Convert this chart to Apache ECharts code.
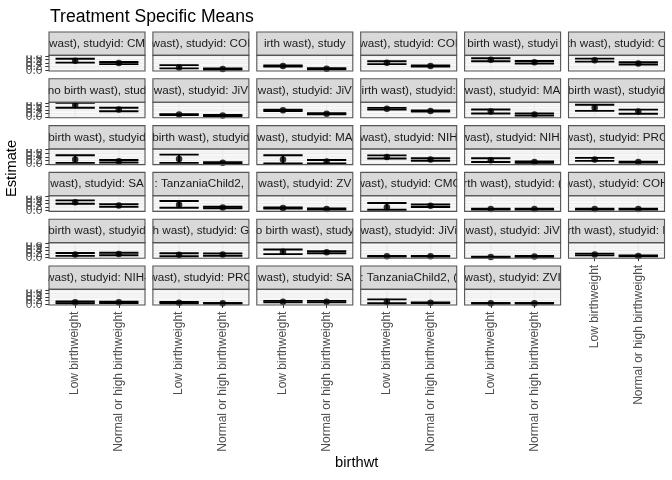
<!DOCTYPE html>
<html>
<head>
<meta charset="utf-8">
<script src="https://cdn.jsdelivr.net/npm/echarts@6/dist/echarts.min.js"></script>
<style>html,body{margin:0;padding:0;background:#fff}#c{width:672px;height:480px}</style>
</head>
<body>
<div id="c"></div>
<script>
// ---- data ----
const categories = ['Low birthweight', 'Normal or high birthweight'];
const stripLabels = [
  'wast), studyid: CM', 'wast), studyid: COI', 'irth wast), study', 'wast), studyid: COI', 'birth wast), studyi', 'th wast), studyid: C',
  'no birth wast), stud', 'wast), studyid: JiV', 'wast), studyid: JiV', 'irth wast), studyid:', 'wast), studyid: MA', 'birth wast), studyid',
  'birth wast), studyid', 'birth wast), studyid', 'wast), studyid: MA', 'wast), studyid: NIH', 'wast), studyid: NIH-', 'wast), studyid: PRO',
  'wast), studyid: SA', ': TanzaniaChild2, ', 'wast), studyid: ZV', 'wast), studyid: CMC', 'rth wast), studyid: (', 'wast), studyid: COH',
  'birth wast), studyid', 'h wast), studyid: G', 'o birth wast), study', 'wast), studyid: JiVi', 'wast), studyid: JiV', 'rth wast), studyid: I',
  'wast), studyid: NIH-', 'wast), studyid: PRO', 'wast), studyid: SA', ': TanzaniaChild2, (', 'wast), studyid: ZVI'
];
const lowEst = [0.54, 0.16, 0.24, 0.43, 0.60, 0.57,
                0.68, 0.14, 0.38, 0.47, 0.32, 0.53,
                0.25, 0.28, 0.25, 0.39, 0.21, 0.25,
                0.48, 0.33, 0.15, 0.20, 0.09, 0.09,
                0.17, 0.15, 0.32, 0.07, 0.03, 0.17,
                0.11, 0.09, 0.15, 0.15, 0.06];
const lowLo  = [0.43, 0.11, 0.21, 0.35, 0.51, 0.49,
                0.53, 0.11, 0.34, 0.42, 0.20, 0.35,
                0.06, 0.06, 0.02, 0.30, 0.11, 0.17,
                0.39, 0.17, 0.12, 0.05, 0.07, 0.07,
                0.09, 0.07, 0.19, 0.05, 0.01, 0.12,
                0.06, 0.05, 0.11, 0.06, 0.04];
const lowHi  = [0.65, 0.29, 0.27, 0.51, 0.68, 0.66,
                0.80, 0.17, 0.42, 0.52, 0.43, 0.70,
                0.49, 0.52, 0.49, 0.48, 0.32, 0.34,
                0.58, 0.55, 0.18, 0.43, 0.11, 0.11,
                0.25, 0.24, 0.45, 0.09, 0.05, 0.22,
                0.16, 0.13, 0.19, 0.28, 0.08];
const normEst = [0.41, 0.07, 0.09, 0.24, 0.45, 0.39,
                 0.43, 0.09, 0.19, 0.34, 0.15, 0.32,
                 0.15, 0.06, 0.13, 0.25, 0.10, 0.10,
                 0.29, 0.18, 0.09, 0.28, 0.09, 0.09,
                 0.20, 0.17, 0.30, 0.07, 0.06, 0.09,
                 0.11, 0.06, 0.15, 0.09, 0.06];
const normLo  = [0.35, 0.04, 0.06, 0.21, 0.38, 0.33,
                 0.33, 0.06, 0.16, 0.31, 0.09, 0.19,
                 0.08, 0.03, 0.03, 0.18, 0.06, 0.07,
                 0.22, 0.14, 0.06, 0.21, 0.07, 0.07,
                 0.13, 0.10, 0.24, 0.05, 0.04, 0.07,
                 0.07, 0.04, 0.11, 0.07, 0.04];
const normHi  = [0.47, 0.10, 0.12, 0.27, 0.52, 0.45,
                 0.53, 0.12, 0.22, 0.37, 0.21, 0.42,
                 0.22, 0.09, 0.22, 0.32, 0.14, 0.13,
                 0.37, 0.22, 0.12, 0.35, 0.11, 0.11,
                 0.27, 0.23, 0.36, 0.09, 0.08, 0.11,
                 0.15, 0.08, 0.19, 0.11, 0.08];
const yTickValues = [0, 0.2, 0.4, 0.6, 0.8];
const yMinorValues = [0.1, 0.3, 0.5, 0.7];

// ---- layout ----
const FONT = '"Liberation Sans", Arial, sans-serif';
const NCOL = 6, NPANEL = 35;
const LEFT0 = 49, COL_STEP = 103.9, PW = 96;
const TOP0 = 32, ROW_STEP = 46.8, SH = 23.4, PH = 15.6;
const YMIN = -0.04, YMAX = 0.84, XMIN = 0.4, XMAX = 2.6;

const grids = [], xAxes = [], yAxes = [], series = [], graphics = [];
for (let i = 0; i < NPANEL; i++) {
  const r = Math.floor(i / NCOL), c = i % NCOL;
  const left = LEFT0 + c * COL_STEP;
  const stripTop = TOP0 + r * ROW_STEP;
  const top = stripTop + SH;
  const showX = (i + NCOL >= NPANEL);
  grids.push({left: left, top: top, width: PW, height: PH, show: true, backgroundColor: '#fff', borderWidth: 0, outerBoundsMode: 'none', containLabel: false});
  xAxes.push({
    gridIndex: i, type: 'value', min: XMIN, max: XMAX,
    axisLine: {show: false}, splitLine: {show: false},
    axisTick: {show: showX, customValues: [1, 2], length: 3.7, lineStyle: {color: '#333', width: 1}},
    axisLabel: {show: showX, customValues: [1, 2], interval: 0, hideOverlap: false, formatter: v => categories[Math.round(v) - 1], rotate: 90, margin: 6.6, fontSize: 12, color: '#4D4D4D', fontFamily: FONT}
  });
  const yIdx = yAxes.length;
  yAxes.push({
    gridIndex: i, type: 'value', min: YMIN, max: YMAX,
    axisLine: {show: false}, splitLine: {show: false}, axisTick: {show: false}, axisLabel: {show: false}
  });
  if (c === 0) {
    // one overlaid axis per tick so overlapping labels are all kept (as in the reference)
    yTickValues.forEach(t => {
      yAxes.push({
        gridIndex: i, type: 'value', min: YMIN, max: YMAX, position: 'left', offset: 0,
        axisLine: {show: false}, splitLine: {show: false},
        axisTick: {show: true, customValues: [t], length: 3.7, lineStyle: {color: '#333', width: 1}},
        axisLabel: {show: true, customValues: [t], formatter: v => v.toFixed(1), margin: 6.6, fontSize: 12, color: '#4D4D4D', fontFamily: FONT}
      });
    });
  }
  // background grid lines
  series.push({
    type: 'custom', xAxisIndex: i, yAxisIndex: yIdx, z: 1, silent: true, data: [[1, 0]],
    renderItem: function (params, api) {
      const children = [];
      yMinorValues.forEach(v => {
        const a = api.coord([XMIN, v]), b = api.coord([XMAX, v]);
        children.push({type: 'line', shape: {x1: a[0], y1: a[1], x2: b[0], y2: b[1]}, style: {stroke: '#EBEBEB', lineWidth: 0.7}});
      });
      yTickValues.forEach(v => {
        const a = api.coord([XMIN, v]), b = api.coord([XMAX, v]);
        children.push({type: 'line', shape: {x1: a[0], y1: a[1], x2: b[0], y2: b[1]}, style: {stroke: '#EBEBEB', lineWidth: 1.3}});
      });
      [1, 2].forEach(v => {
        const a = api.coord([v, YMIN]), b = api.coord([v, YMAX]);
        children.push({type: 'line', shape: {x1: a[0], y1: a[1], x2: b[0], y2: b[1]}, style: {stroke: '#EBEBEB', lineWidth: 1.3}});
      });
      return {type: 'group', children: children};
    }
  });
  // error bars
  series.push({
    type: 'custom', xAxisIndex: i, yAxisIndex: yIdx, z: 3, silent: true,
    encode: {x: 0, y: [1, 2, 3]},
    data: [[1, lowEst[i], lowLo[i], lowHi[i]], [2, normEst[i], normLo[i], normHi[i]]],
    renderItem: function (params, api) {
      const x = api.value(0), lo = api.value(2), hi = api.value(3);
      const tl = api.coord([x - 0.45, hi]), tr = api.coord([x + 0.45, hi]);
      const bl = api.coord([x - 0.45, lo]), br = api.coord([x + 0.45, lo]);
      const vt = api.coord([x, hi]), vb = api.coord([x, lo]);
      const st = {stroke: '#000', lineWidth: 1.9};
      return {type: 'group', children: [
        {type: 'line', shape: {x1: tl[0], y1: tl[1], x2: tr[0], y2: tr[1]}, style: st},
        {type: 'line', shape: {x1: bl[0], y1: bl[1], x2: br[0], y2: br[1]}, style: st},
        {type: 'line', shape: {x1: vt[0], y1: vt[1], x2: vb[0], y2: vb[1]}, style: st}
      ]};
    }
  });
  // points
  series.push({
    type: 'scatter', xAxisIndex: i, yAxisIndex: yIdx, z: 4, silent: true,
    symbolSize: 6.5, itemStyle: {color: '#000'},
    data: [[1, lowEst[i]], [2, normEst[i]]]
  });
  // strip
  graphics.push({type: 'rect', z: 1, silent: true, shape: {x: left, y: stripTop, width: PW, height: SH}, style: {fill: '#D9D9D9'}});
  graphics.push({type: 'text', z: 2, silent: true, style: {text: stripLabels[i], x: left + PW / 2, y: stripTop + SH / 2, textAlign: 'center', textVerticalAlign: 'middle', fill: '#1A1A1A', font: '11.7px ' + FONT}});
  graphics.push({type: 'rect', z: 10, silent: true, shape: {x: left, y: stripTop, width: PW, height: SH}, style: {fill: 'none', stroke: '#555', lineWidth: 1.1}});
  graphics.push({type: 'rect', z: 10, silent: true, shape: {x: left, y: top, width: PW, height: PH}, style: {fill: 'none', stroke: '#555', lineWidth: 1.1}});
}
// covers for strip text overflow (only in the gaps next to strips)
for (let r = 0; r < 6; r++) {
  const y = TOP0 + r * ROW_STEP;
  const nInRow = Math.min(NCOL, NPANEL - r * NCOL);
  graphics.push({type: 'rect', z: 3, silent: true, shape: {x: 0, y: y, width: LEFT0 - 0.6, height: SH}, style: {fill: '#fff'}});
  for (let c = 0; c < nInRow; c++) {
    const x = LEFT0 + c * COL_STEP + PW + 0.6;
    const w = (c === NCOL - 1) ? 672 - x : COL_STEP - PW - 1.2;
    graphics.push({type: 'rect', z: 3, silent: true, shape: {x: x, y: y, width: w, height: SH}, style: {fill: '#fff'}});
  }
}
// axis titles
graphics.push({type: 'text', z: 5, silent: true, x: 12, y: TOP0 + (5 * ROW_STEP + SH + PH) / 2, rotation: Math.PI / 2,
  style: {text: 'Estimate', x: 0, y: 0, textAlign: 'center', textVerticalAlign: 'middle', fill: '#000', font: '14.7px ' + FONT}});
graphics.push({type: 'text', z: 5, silent: true, x: LEFT0 + (5 * COL_STEP + PW) / 2, y: 463,
  style: {text: 'birthwt', x: 0, y: 0, textAlign: 'center', textVerticalAlign: 'middle', fill: '#000', font: '14.7px ' + FONT}});

const chart = echarts.init(document.getElementById('c'), null, {renderer: 'canvas'});
chart.setOption({
  backgroundColor: '#fff',
  animation: false,
  title: {text: 'Treatment Specific Means', left: 45, top: 3, textStyle: {fontSize: 17.6, fontWeight: 'normal', color: '#000', fontFamily: FONT}},
  grid: grids, xAxis: xAxes, yAxis: yAxes, series: series, graphic: {elements: graphics}
});
</script>
</body>
</html>
